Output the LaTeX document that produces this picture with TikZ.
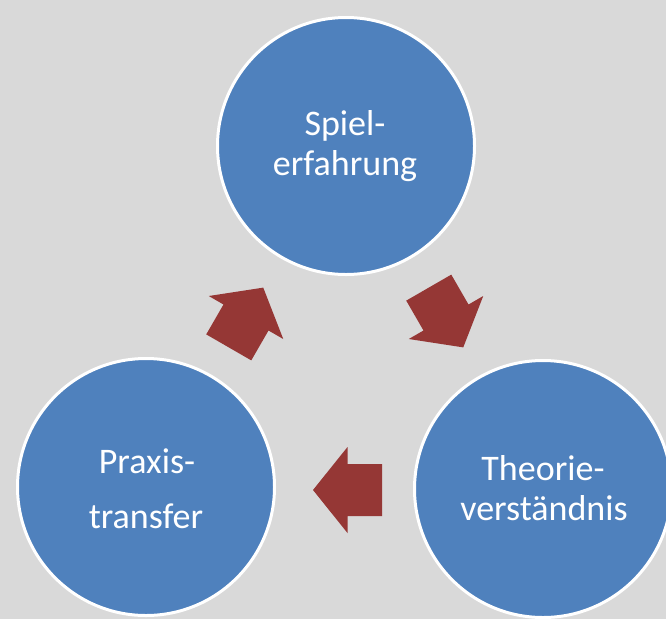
\documentclass[tikz,border=0pt]{standalone}
\usepackage{fontspec}
\setmainfont{Carlito}
\definecolor{bgcol}{HTML}{D9D9D9}
\definecolor{circblue}{HTML}{4F81BD}
\definecolor{arrred}{HTML}{953735}
\begin{document}
\begin{tikzpicture}[x=1pt,y=-1pt,
  circ/.style={circle, fill=circblue, draw=white, line width=3pt, minimum size=257pt, inner sep=0pt},
  txt/.style={text=white, font=\fontsize{36}{40}\selectfont, inner sep=0pt, anchor=base},
  blockarrow/.style={fill=arrred, draw=none}]
\fill[bgcol] (0,0) rectangle (666,619);
\useasboundingbox (0,0) rectangle (666,619);
\node[circ] (spiel) at (346,146) {};
\node[circ] (theorie) at (543,489) {};
\node[circ] (praxis) at (146,487) {};
\node[txt] (t1a) at (345,135) {Spiel-};
\node[txt] (t1b) at (345,175) {erfahrung};
\node[txt] (t2a) at (543,480) {Theorie-};
\node[txt] (t2b) at (544,520) {verständnis};
\node[txt] (t3a) at (147,473) {Praxis-};
\node[txt] (t3b) at (146,528) {transfer};
\def\arrowshape{(-34.5,-26) -- (0,-26) -- (0,-43) -- (34.5,0) -- (0,43) -- (0,26) -- (-34.5,26) -- cycle}
\begin{scope}[shift={(446,317.5)}, rotate=-60]
  \fill[blockarrow] \arrowshape;
\end{scope}
\begin{scope}[shift={(347.5,490)}, rotate=180]
  \fill[blockarrow] \arrowshape;
\end{scope}
\begin{scope}[shift={(246,317.5)}, rotate=60]
  \fill[blockarrow] \arrowshape;
\end{scope}
\end{tikzpicture}
\end{document}
